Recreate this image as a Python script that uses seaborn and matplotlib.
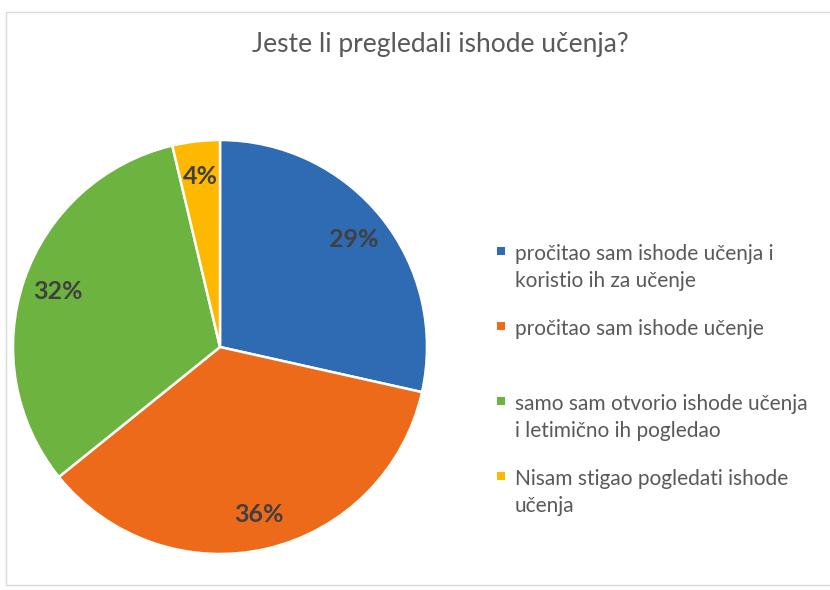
import matplotlib
matplotlib.use("Agg")
import matplotlib.pyplot as plt
from matplotlib.patches import Rectangle
import seaborn as sns

# ---- data ----
title = "Jeste li pregledali ishode učenja?"
categories = [
    "pročitao sam ishode učenja i\nkoristio ih za učenje",
    "pročitao sam ishode učenje",
    "samo sam otvorio ishode učenja\ni letimično ih pogledao",
    "Nisam stigao pogledati ishode\nučenja",
]
shares = [28.5, 35.7, 32.1, 3.7]
pct_labels = ["29%", "36%", "32%", "4%"]
colors = ["#2E6BB2", "#EE6A1B", "#6CB33F", "#FFB800"]

sns.set_theme(style="white")
plt.rcParams["font.family"] = ["Lato", "DejaVu Sans"]

W, H = 830, 590
fig = plt.figure(figsize=(W / 100, H / 100), dpi=100)
fig.patch.set_facecolor("white")

# outer chart frame
fig.add_artist(Rectangle((6 / W, 1 - 585 / H), 1.0, (585 - 12) / H,
                         transform=fig.transFigure, fill=False,
                         edgecolor="#D9D9D9", linewidth=1.0))

fig.text(440 / W, 1 - 52 / H, title, ha="center", va="baseline",
         fontsize=19, color="#595959")

cx, cy, r = 220, 347, 207
ax = fig.add_axes([(cx - r) / W, 1 - (cy + r) / H, 2 * r / W, 2 * r / H])
wedges, _, autotexts = ax.pie(
    shares, colors=colors, startangle=90, counterclock=False,
    autopct="%1.0f%%", pctdistance=0.83,
    wedgeprops=dict(edgecolor="white", linewidth=1.8),
    textprops=dict(fontsize=18, fontweight="bold", color="#404040"),
)
for t, lab in zip(autotexts, pct_labels):
    t.set_text(lab)
ax.set_xlim(-1, 1)
ax.set_ylim(-1, 1)
ax.set_aspect("equal")
ax.axis("off")

# legend (Excel-style, equal slot per entry, marker on the first line)
y0, step, line_gap = 260, 75, 27
for i, (lab, col) in enumerate(zip(categories, colors)):
    y = y0 + i * step
    fig.add_artist(Rectangle((497 / W, 1 - (y - 5) / H), 8 / W, 8 / H,
                             transform=fig.transFigure, facecolor=col,
                             edgecolor="none"))
    for j, line in enumerate(lab.split("\n")):
        fig.text(515 / W, 1 - (y + j * line_gap) / H, line, ha="left",
                 va="baseline", fontsize=15, color="#595959")

fig.savefig("out.png", dpi=100, facecolor="white")
